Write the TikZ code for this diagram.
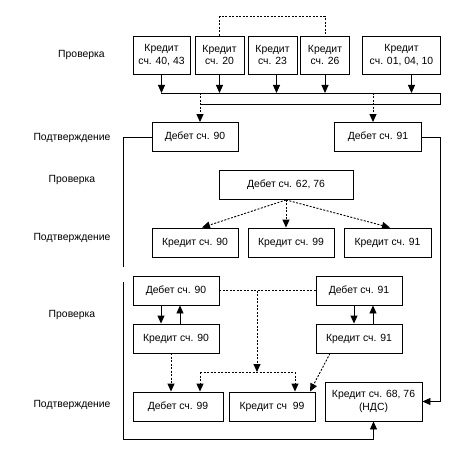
\documentclass[tikz,border=0pt]{standalone}
\usepackage{fontspec}
\setmainfont{Liberation Sans}
\usetikzlibrary{arrows.meta,calc}
\begin{document}
\begin{tikzpicture}[x=1pt,y=-1pt,
 box/.style={draw, line width=0.9pt, inner sep=0pt, align=center, font=\fontsize{10.4}{12.5}\selectfont},
 lbl/.style={font=\fontsize{10.4}{12.5}\selectfont, inner sep=0pt},
 arr/.style={-{Triangle[length=8pt,width=7pt]}, line width=0.9pt},
 dsh/.style={dash pattern=on 2pt off 1.5pt, line width=0.9pt},
 ln/.style={line width=0.9pt}]
\useasboundingbox (0,0) rectangle (472,460);
% labels
\node[lbl] (l1) at (81.5,55) {Проверка};
\node[lbl] (l2) at (72,138) {Подтверждение};
\node[lbl] (l3) at (72,180) {Проверка};
\node[lbl] (l4) at (72,238) {Подтверждение};
\node[lbl] (l5) at (72,315) {Проверка};
\node[lbl] (l6) at (72,405) {Подтверждение};
% top boxes
\node[box, minimum width=57, minimum height=38] (b1) at (161.5,55) {Кредит\\сч. 40, 43};
\node[box, minimum width=49, minimum height=38] (b2) at (219.5,55) {Кредит\\сч. 20};
\node[box, minimum width=49, minimum height=38] (b3) at (272.5,55) {Кредит\\сч. 23};
\node[box, minimum width=49, minimum height=38] (b4) at (325,55) {Кредит\\сч. 26};
\node[box, minimum width=78, minimum height=38] (b5) at (401.5,55) {Кредит\\сч. 01, 04, 10};
\draw[dsh] (b2.north) -- ++(0,-19) -| (b4.north);
% bar
\coordinate (barTL) at (161,93);
\coordinate (barTR) at (440,93);
\coordinate (barBR) at (440,104);
\coordinate (barBL) at (200,104);
\draw[ln] (barTL) -- (barTR) -- (barBR) -- (barBL);
\draw[arr] (b1.south) -- (b1.south |- barTL);
\draw[arr] (b2.south) -- (b2.south |- barTL);
\draw[arr] ([xshift=4]b3.south) -- ([xshift=4]b3.south |- barTL);
\draw[arr] (b4.south) -- (b4.south |- barTL);
\draw[arr] ([xshift=10]b5.south) -- ([xshift=10]b5.south |- barTL);
% debit 90 / 91
\node[box, minimum width=86, minimum height=29] (d90) at (195,137) {Дебет сч. 90};
\node[box, minimum width=87, minimum height=29] (d91) at (378,137) {Дебет сч. 91};
\coordinate (tap1) at (200,93);
\coordinate (tap2) at (373,93);
\draw[dsh,arr] (tap1) -- (tap1 |- d90.north);
\draw[dsh,arr] (tap2) -- (tap2 |- d91.north);
% middle
\node[box, minimum width=134, minimum height=29] (m) at (286,185) {Дебет сч. 62, 76};
\node[box, minimum width=86, minimum height=29] (k90m) at (195,242.5) {Кредит сч. 90};
\node[box, minimum width=86, minimum height=29] (k99m) at (291,242.5) {Кредит сч. 99};
\node[box, minimum width=87, minimum height=29] (k91m) at (387.5,242.5) {Кредит сч. 91};
\draw[dsh,arr] (m.south) -- ([xshift=7]k90m.north);
\draw[dsh,arr] (m.south) -- ([xshift=-5]k99m.north);
\draw[dsh,arr] (m.south) -- ([xshift=2.5]k91m.north);
% lower
\node[box, minimum width=86, minimum height=29] (d90l) at (176,290.5) {Дебет сч. 90};
\node[box, minimum width=86, minimum height=29] (d91l) at (359,290.5) {Дебет сч. 91};
\node[box, minimum width=86, minimum height=29] (k90l) at (176,338.5) {Кредит сч. 90};
\node[box, minimum width=86, minimum height=29] (k91l) at (359,338.5) {Кредит сч. 91};
\node[box, minimum width=90, minimum height=29] (d99) at (178,406.5) {Дебет сч. 99};
\node[box, minimum width=86, minimum height=29] (k99l) at (272,406.5) {Кредит сч\ \ 99};
\node[box, minimum width=97, minimum height=39] (k68) at (373.5,401.5) {Кредит сч. 68, 76\\(НДС)};
\draw[arr] ([xshift=-15]d90l.south) -- ([xshift=-15]k90l.north);
\draw[arr] ([xshift=4]k90l.north) -- ([xshift=4]d90l.south);
\draw[arr] ([xshift=-5]d91l.south) -- ([xshift=-5]k91l.north);
\draw[arr] ([xshift=14]k91l.north) -- ([xshift=14]d91l.south);
\draw[dsh] (d90l.east) -- (d91l.west);
\coordinate (jn) at (257,290.5);
\coordinate (hl) at (200,372);
\coordinate (hr) at (295,372);
\draw[dsh,arr] (jn) -- (jn |- hl);
\draw[dsh] (hl) -- (hr);
\draw[dsh,arr] (hl) -- (hl |- d99.north);
\draw[dsh,arr] (hr) -- (hr |- k99l.north);
\draw[dsh,arr] ([xshift=-5]k90l.south) -- ([xshift=-5]k90l.south |- d99.north);
\draw[dsh,arr] ([xshift=-29]k91l.south) -- ([xshift=38]k99l.north);
% outer lines
\coordinate (lt) at (123,137);
\coordinate (lm) at (123,266.5);
\coordinate (lb0) at (123,282);
\coordinate (lb) at (123,439);
\draw[ln] (d90.west) -- (lt) -- (lm);
\draw[arr] (lb0) -- (lb) -| (k68.south);
\coordinate (rc) at (440,401.5);
\draw[arr] (d91.east) -| (rc) -- (k68.east);
\end{tikzpicture}
\end{document}
